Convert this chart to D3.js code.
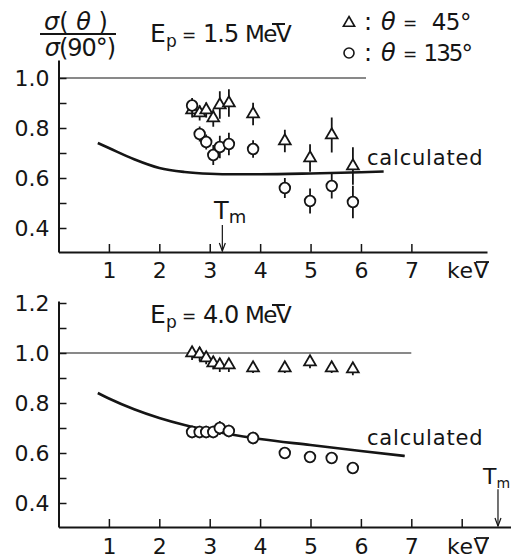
<!DOCTYPE html>
<html lang="en">
<head>
<meta charset="UTF-8">
<title>sigma(theta)/sigma(90)</title>
<script src="https://d3js.org/d3.v7.min.js"></script>
<style>
  body { margin: 0; background: #fff; }
  svg text { font-family: "DejaVu Sans", sans-serif; fill: #151515; }
</style>
</head>
<body>
<svg id="chart" width="511" height="560"></svg>
<script>
// data
var energies = [2.65, 2.8, 2.93, 3.07, 3.2, 3.38, 3.86, 4.49, 4.99, 5.42, 5.84];

var top45 = [0.872, 0.86, 0.872, 0.84, 0.892, 0.90, 0.856, 0.748, 0.68, 0.772, 0.648];
var top45Err = [0.03, 0.03, 0.03, 0.035, 0.055, 0.055, 0.045, 0.045, 0.055, 0.07, 0.075];
var top135 = [0.89, 0.776, 0.744, 0.692, 0.724, 0.736, 0.716, 0.56, 0.508, 0.568, 0.504];
var top135Err = [0.03, 0.03, 0.03, 0.04, 0.045, 0.045, 0.035, 0.04, 0.05, 0.05, 0.065];

var bot45 = [1.0, 0.996, 0.98, 0.96, 0.952, 0.952, 0.94, 0.94, 0.964, 0.94, 0.936];
var bot45Err = [0.028, 0.028, 0.025, 0.025, 0.028, 0.028, 0.02, 0.02, 0.025, 0.02, 0.025];
var bot135 = [0.684, 0.684, 0.684, 0.684, 0.70, 0.688, 0.66, 0.60, 0.584, 0.58, 0.54];
var bot135Err = [0.025, 0.025, 0.025, 0.025, 0.028, 0.025, 0.025, 0.02, 0.02, 0.02, 0.02];

var calcTopE = [0.78, 1.0, 1.5, 2.0, 2.5, 3.0, 3.5, 4.0, 5.0, 6.0, 6.45];
var calcTopV = [0.74, 0.72, 0.675, 0.64, 0.624, 0.617, 0.615, 0.615, 0.618, 0.623, 0.626];
var calcBotE = [0.78, 1.0, 1.5, 2.0, 2.5, 3.0, 4.0, 5.0, 6.0, 6.87];
var calcBotV = [0.84, 0.818, 0.775, 0.74, 0.712, 0.69, 0.656, 0.632, 0.608, 0.588];

var xTicksTop = [1, 2, 3, 4, 5, 6, 7];
var xTicksBot = [1, 2, 3, 4, 5, 6, 7, 8];
var yTicksTop = [0.4, 0.5, 0.6, 0.7, 0.8, 0.9, 1.0];
var yTicksBot = [0.4, 0.5, 0.6, 0.7, 0.8, 0.9, 1.0, 1.1, 1.2];
var tmTop = 3.25, tmBot = 8.72;

var ink = "#151515";
var svg = d3.select("#chart");

// both panels share the same keV/px and ratio/px
var xTop = d3.scaleLinear().domain([0, 8.5]).range([58.5, 487]);
var xBot = d3.scaleLinear().domain([0, 9]).range([58.5, 512.1]);
var yTop = d3.scaleLinear().domain([0.304, 1.072]).range([252, 60]);
var yBot = d3.scaleLinear().domain([0.304, 1.208]).range([527, 301]);

var fmtY = function(d){ return Math.round(d * 10) % 2 === 0 ? d3.format(".1f")(d) : ""; };

function panel(x, y, xt, yt, xLabelPad, refEnd) {
  var g = svg.append("g");

  var ax = g.append("g")
      .attr("transform", "translate(0," + y.range()[0] + ")")
      .call(d3.axisBottom(x).tickValues(xt).tickSize(-8).tickSizeOuter(0).tickPadding(xLabelPad)
        .tickFormat(function(d){ return d < 8 ? d : ""; }));
  var ay = g.append("g")
      .attr("transform", "translate(" + x.range()[0] + ",0)")
      .call(d3.axisLeft(y).tickValues(yt).tickSize(-8).tickSizeOuter(0).tickPadding(9).tickFormat(fmtY));

  [ax, ay].forEach(function(a){
    a.select(".domain").attr("stroke", ink).attr("stroke-width", 2);
    a.selectAll(".tick line").attr("stroke", ink).attr("stroke-width", 1.5);
    a.selectAll("text").attr("font-size", 22).attr("font-family", "DejaVu Sans").attr("fill", ink);
  });

  // reference line at 1.0
  g.append("line")
    .attr("x1", x(0)).attr("x2", x(refEnd))
    .attr("y1", y(1.0)).attr("y2", y(1.0))
    .attr("stroke", ink).attr("stroke-width", 1.2);

  // keV label
  var kx = 447, ky = y.range()[0] + xLabelPad + 16;
  g.append("text")
    .attr("x", kx).attr("y", ky)
    .attr("font-size", 22).attr("letter-spacing", 0.5)
    .text("keV");
  // short bar over the V, as in the typed original
  g.append("line")
    .attr("x1", kx + 29).attr("x2", kx + 42)
    .attr("y1", ky - 16).attr("y2", ky - 16)
    .attr("stroke", ink).attr("stroke-width", 1.8);
  return g;
}

function calcCurve(g, x, y, es, vs) {
  var line = d3.line()
      .x(function(d){ return x(d[0]); })
      .y(function(d){ return y(d[1]); })
      .curve(d3.curveMonotoneX);
  g.append("path")
    .datum(es.map(function(e, i){ return [e, vs[i]]; }))
    .attr("d", line)
    .attr("fill", "none").attr("stroke", ink).attr("stroke-width", 2.6);
}

function points(g, x, y, vals, errs, shape) {
  var data = energies.map(function(e, i){ return {e: e, v: vals[i], err: errs[i]}; });
  var pg = g.append("g");
  pg.selectAll("line.err").data(data).enter().append("line")
    .attr("class", "err")
    .attr("x1", function(d){ return x(d.e); }).attr("x2", function(d){ return x(d.e); })
    .attr("y1", function(d){ return y(d.v + d.err); })
    .attr("y2", function(d){ return y(d.v - d.err); })
    .attr("stroke", ink).attr("stroke-width", 1.8);
  if (shape === "circle") {
    pg.selectAll("circle").data(data).enter().append("circle")
      .attr("cx", function(d){ return x(d.e); })
      .attr("cy", function(d){ return y(d.v); })
      .attr("r", 5.3)
      .attr("fill", "#fff").attr("stroke", ink).attr("stroke-width", 1.8);
  } else {
    var tri = d3.symbol().type(d3.symbolTriangle).size(60);
    pg.selectAll("path").data(data).enter().append("path")
      .attr("transform", function(d){ return "translate(" + x(d.e) + "," + y(d.v) + ")"; })
      .attr("d", tri)
      .attr("fill", "#fff").attr("stroke", ink).attr("stroke-width", 1.8);
  }
}

function tm(g, x, y, e, yTopVal, tx, ty, big, small) {
  g.append("line")
    .attr("x1", x(e)).attr("x2", x(e))
    .attr("y1", y(yTopVal)).attr("y2", y.range()[0] - 1)
    .attr("stroke", ink).attr("stroke-width", 1.2);
  g.append("path")
    .attr("d", "M" + (x(e) - 3) + "," + (y.range()[0] - 9) + "L" + x(e) + "," + (y.range()[0] - 1) + "L" + (x(e) + 3) + "," + (y.range()[0] - 9))
    .attr("fill", "none").attr("stroke", ink).attr("stroke-width", 1.2);
  g.append("text").attr("x", tx).attr("y", ty)
    .attr("font-size", big)
    .html('T<tspan font-size="' + small + '" dy="4">m</tspan>');
}

function title(label, yBase) {
  var t = svg.append("g");
  t.append("text").attr("x", 150).attr("y", yBase).attr("font-size", 25).text("E");
  t.append("text").attr("x", 166).attr("y", yBase + 5).attr("font-size", 17).text("p");
  t.append("text").attr("x", 182).attr("y", yBase - 1).attr("font-size", 17).text("=");
  t.append("text").attr("x", 203).attr("y", yBase).attr("font-size", 24).attr("letter-spacing", -1).text(label);
  t.append("text").attr("x", 245).attr("y", yBase).attr("font-size", 23).attr("letter-spacing", -1.5).text("MeV");
  t.append("line").attr("x1", 272).attr("x2", 285)
    .attr("y1", yBase - 18).attr("y2", yBase - 18)
    .attr("stroke", ink).attr("stroke-width", 2);
}

// top panel: Ep = 1.5 MeV
var gTop = panel(xTop, yTop, xTicksTop, yTicksTop, 10, 6.1);
calcCurve(gTop, xTop, yTop, calcTopE, calcTopV);
points(gTop, xTop, yTop, top45, top45Err, "triangle");
points(gTop, xTop, yTop, top135, top135Err, "circle");
tm(gTop, xTop, yTop, tmTop, 0.412, 214, 219, 24, 18);
gTop.append("text").attr("x", 367).attr("y", 165).attr("font-size", 21).attr("letter-spacing", 0.8).text("calculated");
title("1.5", 42);

// bottom panel: Ep = 4.0 MeV
var gBot = panel(xBot, yBot, xTicksBot, yTicksBot, 11, 7.0);
calcCurve(gBot, xBot, yBot, calcBotE, calcBotV);
points(gBot, xBot, yBot, bot45, bot45Err, "triangle");
points(gBot, xBot, yBot, bot135, bot135Err, "circle");
tm(gBot, xBot, yBot, tmBot, 0.455, 483, 484, 22, 14);
gBot.append("text").attr("x", 367).attr("y", 445).attr("font-size", 21).attr("letter-spacing", 0.8).text("calculated");
title("4.0", 323);

// y label as a fraction
var yl = svg.append("g");
yl.append("text").attr("x", 76).attr("y", 30).attr("text-anchor", "middle").attr("font-size", 24)
  .html('<tspan font-style="italic">σ</tspan>( <tspan font-style="italic">θ</tspan> )');
yl.append("line").attr("x1", 40).attr("x2", 116).attr("y1", 34).attr("y2", 34)
  .attr("stroke", ink).attr("stroke-width", 2);
yl.append("text").attr("x", 80).attr("y", 56).attr("text-anchor", "middle").attr("font-size", 24)
  .attr("letter-spacing", -1)
  .html('<tspan font-style="italic">σ</tspan>(90°)');

// legend
var lg = svg.append("g");
lg.append("path").attr("transform", "translate(349,23)")
  .attr("d", d3.symbol().type(d3.symbolTriangle).size(55))
  .attr("fill", "#fff").attr("stroke", ink).attr("stroke-width", 1.6);
lg.append("circle").attr("cx", 349).attr("cy", 53).attr("r", 5)
  .attr("fill", "#fff").attr("stroke", ink).attr("stroke-width", 1.6);
[[30, "45°", -0.5], [61, "135°", -2]].forEach(function(r){
  lg.append("text").attr("x", 364).attr("y", r[0]).attr("font-size", 24).text(":");
  lg.append("text").attr("x", 381).attr("y", r[0]).attr("font-size", 24).attr("font-style", "italic").text("θ");
  lg.append("text").attr("x", 403).attr("y", r[0] - 1).attr("font-size", 17).text("=");
  lg.append("text").attr("x", 471).attr("y", r[0]).attr("text-anchor", "end")
    .attr("font-size", 23).attr("letter-spacing", r[2]).text(r[1]);
});
</script>
</body>
</html>
